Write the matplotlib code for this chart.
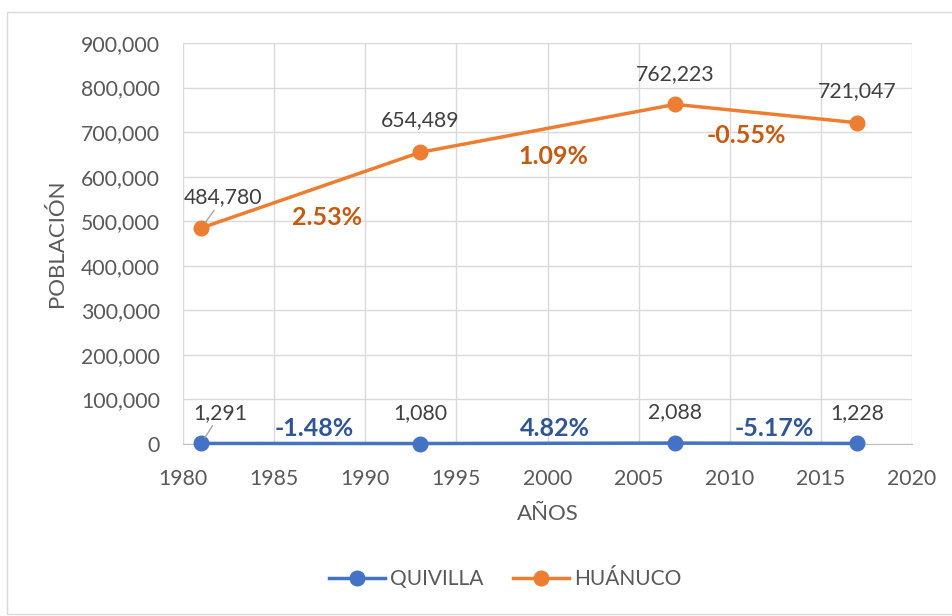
import matplotlib
matplotlib.use("Agg")
import matplotlib.pyplot as plt
from matplotlib.ticker import FuncFormatter, MultipleLocator
from matplotlib.patches import Rectangle

years = [1981, 1993, 2007, 2017]
quivilla = [1291, 1080, 2088, 1228]
huanuco = [484780, 654489, 762223, 721047]
rate_huanuco = ["2.53%", "1.09%", "-0.55%"]
rate_quivilla = ["-1.48%", "4.82%", "-5.17%"]

FONT = "Lato"
TXT = "#595959"
BLUE = "#4472C4"
ORANGE = "#ED7D31"
plt.rcParams['font.family'] = [FONT, 'DejaVu Sans']

fig = plt.figure(figsize=(9.52, 6.16), dpi=100)
fig.patches.append(Rectangle((7/952, 0.003), 1.2, 1 - 12/616 - 0.003, transform=fig.transFigure,
                             fill=False, edgecolor="#d9d9d9", linewidth=1.0))
ax = fig.add_axes([183/952, 1 - 444/616, (912 - 183)/952, (444 - 43)/616])

ax.plot(years, quivilla, color=BLUE, lw=2.5, marker='o', ms=10.5, label="QUIVILLA", zorder=3, clip_on=False)
ax.plot(years, huanuco, color=ORANGE, lw=2.5, marker='o', ms=10.5, label="HUÁNUCO", zorder=3, clip_on=False)

ax.set_xlim(1980, 2020)
ax.set_ylim(0, 900000)
ax.xaxis.set_major_locator(MultipleLocator(5))
ax.yaxis.set_major_locator(MultipleLocator(100000))
ax.yaxis.set_major_formatter(FuncFormatter(lambda v, p: f"{int(v):,}"))
ax.grid(True, color="#d9d9d9", lw=1.0)
ax.set_axisbelow(True)
for s in ["top", "right", "left"]:
    ax.spines[s].set_visible(False)
ax.spines["bottom"].set_color("#bfbfbf")
ax.tick_params(length=0, labelsize=15.3, labelcolor=TXT)
ax.tick_params(axis='y', pad=16.5)
ax.tick_params(axis='x', pad=18)

ax.set_xlabel("AÑOS", fontsize=16, color=TXT, va='center')
ax.set_ylabel("POBLACIÓN", fontsize=16, color=TXT, va='center')
ax.xaxis.set_label_coords((548 - 183) / 729, -(514 - 444) / 401)
ax.yaxis.set_label_coords((57 - 183) / 729, (444 - 243) / 401)

# value labels
hu_off = [(16, 22), (0, 23), (0, 22), (0, 23)]
qu_off = [(14, 22), (0, 22), (0, 22), (0, 22)]
for i, (x, y) in enumerate(zip(years, huanuco)):
    kw = {}
    if i == 0:
        kw = dict(arrowprops=dict(arrowstyle='-', color='#a6a6a6', lw=1, shrinkA=0, shrinkB=5))
    ax.annotate(f"{y:,}", (x, y), xytext=hu_off[i], textcoords='offset points',
                ha='center', va='center', fontsize=15.3, color="#404040", **kw)
for i, (x, y) in enumerate(zip(years, quivilla)):
    kw = {}
    if i == 0:
        kw = dict(arrowprops=dict(arrowstyle='-', color='#a6a6a6', lw=1, shrinkA=0, shrinkB=5))
    ax.annotate(f"{y:,}", (x, y), xytext=qu_off[i], textcoords='offset points',
                ha='center', va='center', fontsize=15.3, color="#404040", **kw)

# growth rate labels (placed near segment midpoints)
hu_off_r = [(12, -20), (4, -20.6), (-14, -16)]
qu_off_r = [(2.5, 11.5), (5.4, 11.5), (6, 11.5)]
for i in range(3):
    xm = (years[i] + years[i + 1]) / 2
    ym = (huanuco[i] + huanuco[i + 1]) / 2
    ax.annotate(rate_huanuco[i], (xm, ym), xytext=hu_off_r[i], textcoords='offset points',
                ha='center', va='center', fontsize=18, fontweight='bold', color="#C55A11")
    ax.annotate(rate_quivilla[i], (xm, 0), xytext=qu_off_r[i], textcoords='offset points',
                ha='center', va='center', fontsize=18, fontweight='bold', color="#2F5597")

leg = fig.legend(loc='center', bbox_to_anchor=(505/952, 1 - 579/616), ncol=2, frameon=False,
                 fontsize=15, handlelength=2.7, columnspacing=1.4, handletextpad=0.25)
for t in leg.get_texts():
    t.set_color(TXT)

fig.savefig("out.png", dpi=100)
